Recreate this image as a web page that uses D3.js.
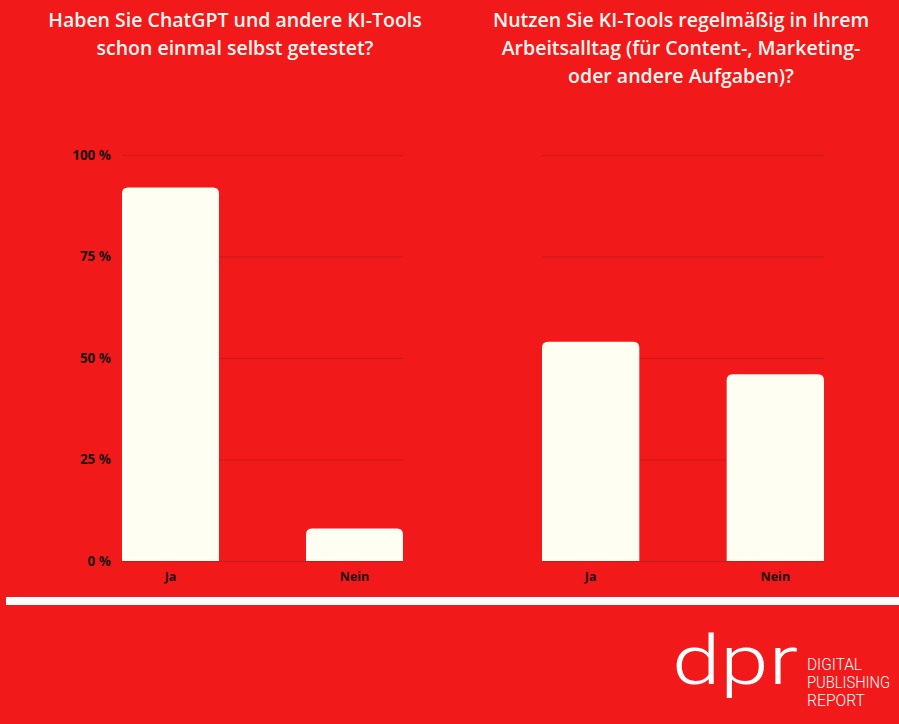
<!DOCTYPE html>
<html><head><meta charset="utf-8">
<script src="https://cdn.jsdelivr.net/npm/d3@7"></script>
<style>
html,body{margin:0;padding:0;background:#f2191b;}
svg{display:block;}
</style></head>
<body>
<svg id="c" width="899" height="724"></svg>
<script>
const categories = ["Ja", "Nein"];
const valuesLeft = [92, 8];
const valuesRight = [54, 46];
const yTicks = [0, 25, 50, 75, 100];
const titleLeft = ["Haben Sie ChatGPT und andere KI-Tools", "schon einmal selbst getestet?"];
const titleRight = ["Nutzen Sie KI-Tools regelmäßig in Ihrem", "Arbeitsalltag (für Content-, Marketing-", "oder andere Aufgaben)?"];
const logoLines = ["DIGITAL", "PUBLISHING", "REPORT"];

const svg = d3.select("#c");
const bg = "#f2191b", cream = "#fffef3", grid = "#c81a1c", ink = "#1b1111";
svg.append("rect").attr("width", 899).attr("height", 724).attr("fill", bg);

const y = d3.scaleLinear().domain([0, 100]).range([561, 155]);

function roundTopPath(x0, y0, w, h, r) {
  r = Math.min(r, h, w / 2);
  return `M${x0},${y0 + h}V${y0 + r}Q${x0},${y0} ${x0 + r},${y0}H${x0 + w - r}Q${x0 + w},${y0} ${x0 + w},${y0 + r}V${y0 + h}Z`;
}

function panel(range, values, withAxis, title, titleCx) {
  const x = d3.scaleBand().domain(categories).range(range).paddingInner(0.473).paddingOuter(0);
  const g = svg.append("g");
  g.selectAll("line.grid").data(yTicks).join("line")
    .attr("x1", range[0]).attr("x2", range[1])
    .attr("y1", d => y(d) + 0.5).attr("y2", d => y(d) + 0.5)
    .attr("stroke", grid).attr("stroke-width", 1);
  g.selectAll("path.bar").data(categories).join("path")
    .attr("d", (c, i) => roundTopPath(x(c), y(values[i]), x.bandwidth(), y(0) - y(values[i]), 6))
    .attr("fill", cream);
  const xa = g.append("g").attr("transform", `translate(0,${y(0)})`)
    .call(d3.axisBottom(x).tickSize(0).tickPadding(11));
  xa.select(".domain").remove();
  xa.selectAll("text").attr("font-family", "Open Sans, sans-serif").attr("font-weight", 700)
    .attr("font-size", 12.5).attr("fill", ink);
  if (withAxis) {
    const ya = g.append("g").attr("transform", `translate(${range[0] - 11},0)`)
      .call(d3.axisLeft(y).tickValues(yTicks).tickSize(0).tickPadding(0).tickFormat(d => d + " %"));
    ya.select(".domain").remove();
    ya.selectAll("text").attr("font-family", "Open Sans, sans-serif").attr("font-weight", 700)
      .attr("font-size", 13.5).attr("fill", ink);
  }
  const t = svg.append("text").attr("text-anchor", "middle")
    .attr("font-family", "Open Sans, sans-serif").attr("font-weight", 600)
    .attr("font-size", 19.5).attr("fill", "#fff6f0");
  title.forEach((line, i) => t.append("tspan").attr("x", titleCx).attr("y", 27 + i * 28).text(line));
}

panel([122, 403], valuesLeft, true, titleLeft, 235);
panel([542, 824], valuesRight, false, titleRight, 681);

svg.append("rect").attr("x", 6).attr("y", 597).attr("width", 893).attr("height", 8).attr("fill", "#ffffff");

svg.append("text").attr("x", 672).attr("y", 684)
  .attr("font-family", "Roboto, sans-serif").attr("font-weight", 300)
  .attr("font-size", 68).attr("fill", "#ffffff").attr("textLength", 126).attr("lengthAdjust", "spacingAndGlyphs")
  .text("dpr");
const lg = svg.append("text").attr("font-family", "Roboto, sans-serif").attr("font-weight", 300)
  .attr("font-size", 16).attr("fill", "#ffffff");
logoLines.forEach((l, i) => lg.append("tspan").attr("x", 807).attr("y", 670 + i * 18)
  .attr("textLength", [55, 83, 58][i]).attr("lengthAdjust", "spacingAndGlyphs").text(l));
</script>
</body></html>
